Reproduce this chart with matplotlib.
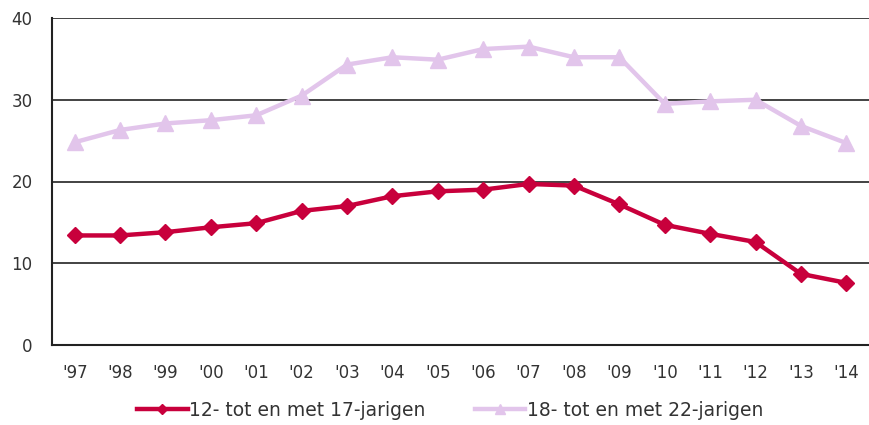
import matplotlib
matplotlib.use("Agg")
import matplotlib.pyplot as plt

# Data
years = ["'97", "'98", "'99", "'00", "'01", "'02", "'03", "'04", "'05",
         "'06", "'07", "'08", "'09", "'10", "'11", "'12", "'13", "'14"]
age_12_17 = [13.4, 13.4, 13.8, 14.4, 14.9, 16.4, 17.0, 18.2, 18.8,
             19.0, 19.7, 19.5, 17.2, 14.7, 13.6, 12.6, 8.7, 7.6]
age_18_22 = [24.8, 26.3, 27.1, 27.5, 28.1, 30.5, 34.3, 35.2, 34.9,
             36.2, 36.5, 35.2, 35.2, 29.5, 29.8, 30.0, 26.8, 24.7]

red = "#C8003C"
lilac = "#E2C5EB"
text_col = "#333333"

fig = plt.figure(figsize=(8.69, 4.25), dpi=100)
ax = fig.add_axes([52 / 869, 1 - 345 / 425, 1 - 52 / 869, (345 - 18) / 425])

x = range(len(years))
ax.plot(x, age_18_22, color=lilac, lw=3.2, marker="^", ms=11,
        label="18- tot en met 22-jarigen", zorder=3)
ax.plot(x, age_12_17, color=red, lw=3.2, marker="D", ms=8.5,
        label="12- tot en met 17-jarigen", zorder=4)

ax.set_xlim(-0.5, len(years) - 0.5)
ax.set_ylim(0, 40)
ax.set_yticks([0, 10, 20, 30, 40])
ax.set_xticks(list(x))
ax.set_xticklabels(years)
ax.yaxis.grid(True, color="#222222", lw=1.2)
ax.set_axisbelow(True)
for s in ["top", "right"]:
    ax.spines[s].set_visible(False)
ax.spines["left"].set_color("#222222")
ax.spines["left"].set_linewidth(1.5)
ax.spines["bottom"].set_color("#222222")
ax.spines["bottom"].set_linewidth(1.5)
ax.tick_params(length=0, labelsize=12, colors=text_col, pad=14)
ax.tick_params(axis="y", pad=14)

handles, labels = ax.get_legend_handles_labels()
fig.legend(handles[::-1], labels[::-1], loc="center", ncol=2,
           bbox_to_anchor=(0.518, 0.035), frameon=False, fontsize=13.5,
           labelcolor=text_col, handlelength=2.7, handletextpad=0.1,
           columnspacing=2.6, markerscale=0.6)

fig.savefig("out.png", dpi=100)
